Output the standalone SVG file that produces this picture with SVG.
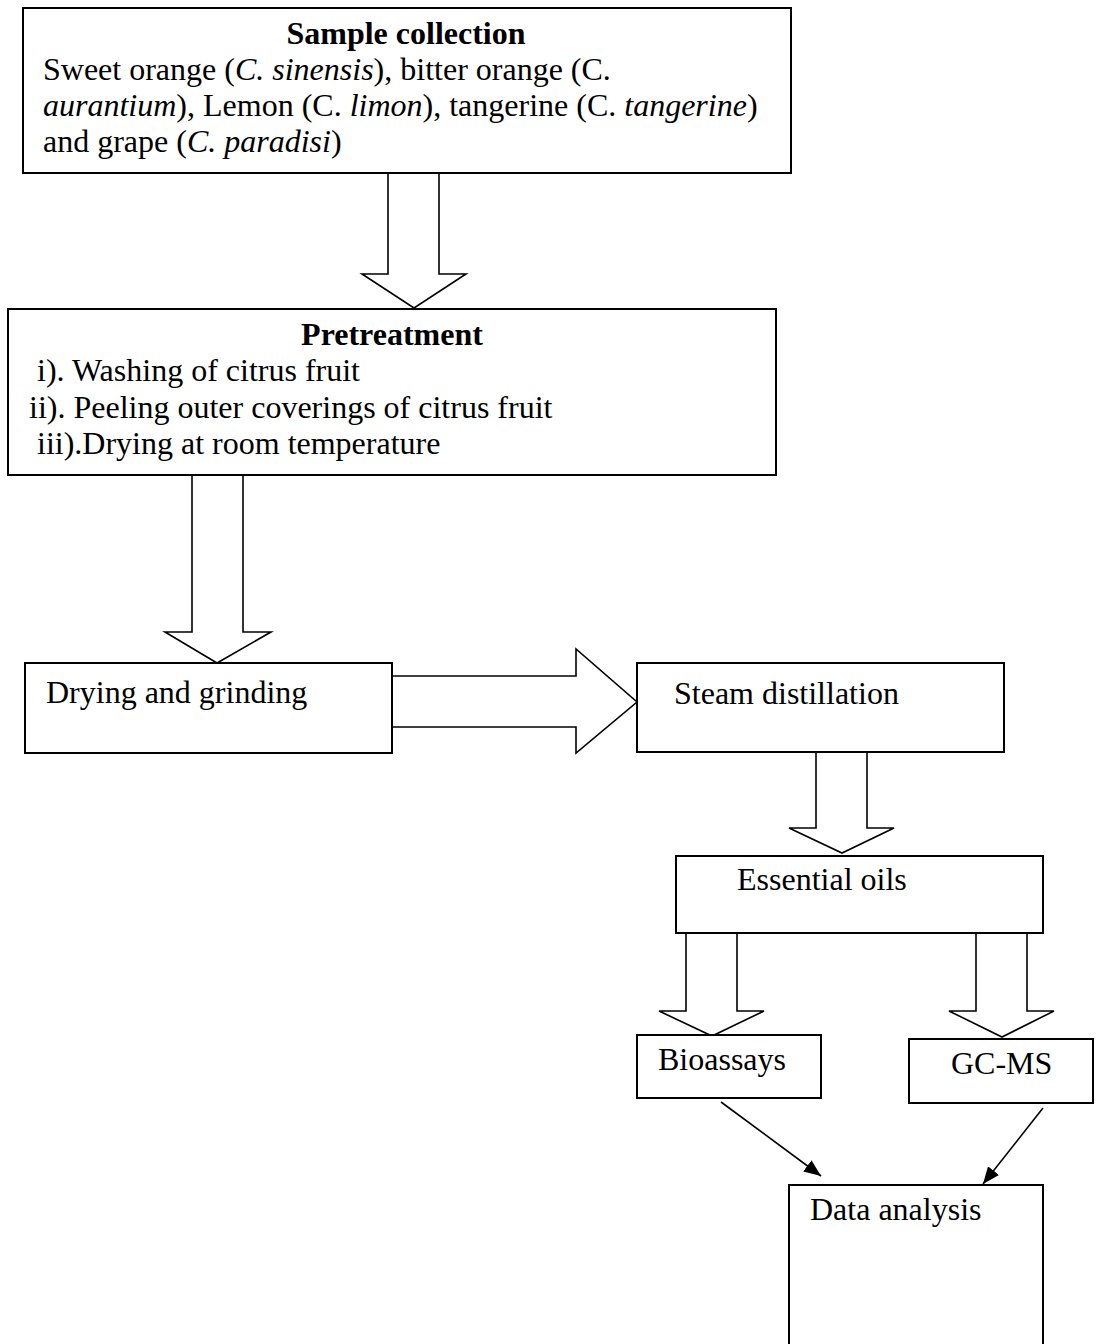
<svg xmlns="http://www.w3.org/2000/svg" width="1097" height="1344" viewBox="0 0 1097 1344">
<style>
.box{fill:#fff;stroke:#000;stroke-width:2}
.blk{fill:#fff;stroke:#000;stroke-width:1.6;stroke-linejoin:miter}
.ln{stroke:#000;stroke-width:1.6;fill:none}
text{font-family:"Liberation Serif","Times New Roman",serif;font-size:32px;fill:#000}
.b{font-weight:bold}
.i{font-style:italic}
</style>
<defs>
<marker id="ah" markerUnits="userSpaceOnUse" markerWidth="18" markerHeight="14" refX="17" refY="7" orient="auto">
<path d="M0,0 L17,7 L0,14 z" fill="#000"/>
</marker>
</defs>
<rect width="1097" height="1344" fill="#fff"/>
<g id="connectors">
<polygon class="blk" points="388,173 439,173 439,274 466,274 414,308 362,274 388,274"/>
<polygon class="blk" points="192,475 243,475 243,632 271,632 217,663 165,632 192,632"/>
<polygon class="blk" points="392,676 576,676 576,649 637,702 576,753 576,727 392,727"/>
<polygon class="blk" points="816,752 867,752 867,828 894,828 842,853 789,828 816,828"/>
<polygon class="blk" points="686,933 737,933 737,1011 764,1011 712,1036 659,1011 686,1011"/>
<polygon class="blk" points="976,933 1027,933 1027,1011 1054,1011 1002,1037 949,1011 976,1011"/>
<line class="ln" x1="721" y1="1102" x2="821" y2="1176" marker-end="url(#ah)"/>
<line class="ln" x1="1043" y1="1108" x2="983" y2="1184" marker-end="url(#ah)"/>
</g>
<g id="sample-collection">
<rect class="box" x="23" y="8" width="768" height="165"/>
<text class="b" x="406" y="44" text-anchor="middle">Sample collection</text>
<text x="43" y="80">Sweet orange (<tspan class="i">C. sinensis</tspan>), bitter orange (C.</text>
<text x="43" y="116"><tspan class="i">aurantium</tspan>), Lemon (C. <tspan class="i">limon</tspan>), tangerine (C. <tspan class="i">tangerine</tspan>)</text>
<text x="43" y="152">and grape (<tspan class="i">C. paradisi</tspan>)</text>
</g>
<g id="pretreatment">
<rect class="box" x="8" y="309" width="768" height="166"/>
<text class="b" x="392" y="345" text-anchor="middle">Pretreatment</text>
<text x="37" y="381">i). Washing of citrus fruit</text>
<text x="29" y="418">ii). Peeling outer coverings of citrus fruit</text>
<text x="37" y="454">iii).Drying at room temperature</text>
</g>
<g id="drying-grinding">
<rect class="box" x="25" y="663" width="367" height="90"/>
<text x="46" y="703">Drying and grinding</text>
</g>
<g id="steam-distillation">
<rect class="box" x="637" y="663" width="367" height="89"/>
<text x="674" y="704">Steam distillation</text>
</g>
<g id="essential-oils">
<rect class="box" x="676" y="856" width="367" height="77"/>
<text x="737" y="890">Essential oils</text>
</g>
<g id="bioassays">
<rect class="box" x="637" y="1035" width="184" height="63"/>
<text x="658" y="1070">Bioassays</text>
</g>
<g id="gc-ms">
<rect class="box" x="909" y="1039" width="184" height="64"/>
<text x="951" y="1074">GC-MS</text>
</g>
<g id="data-analysis">
<rect class="box" x="789" y="1185" width="254" height="170"/>
<text x="810" y="1220">Data analysis</text>
</g>
</svg>
